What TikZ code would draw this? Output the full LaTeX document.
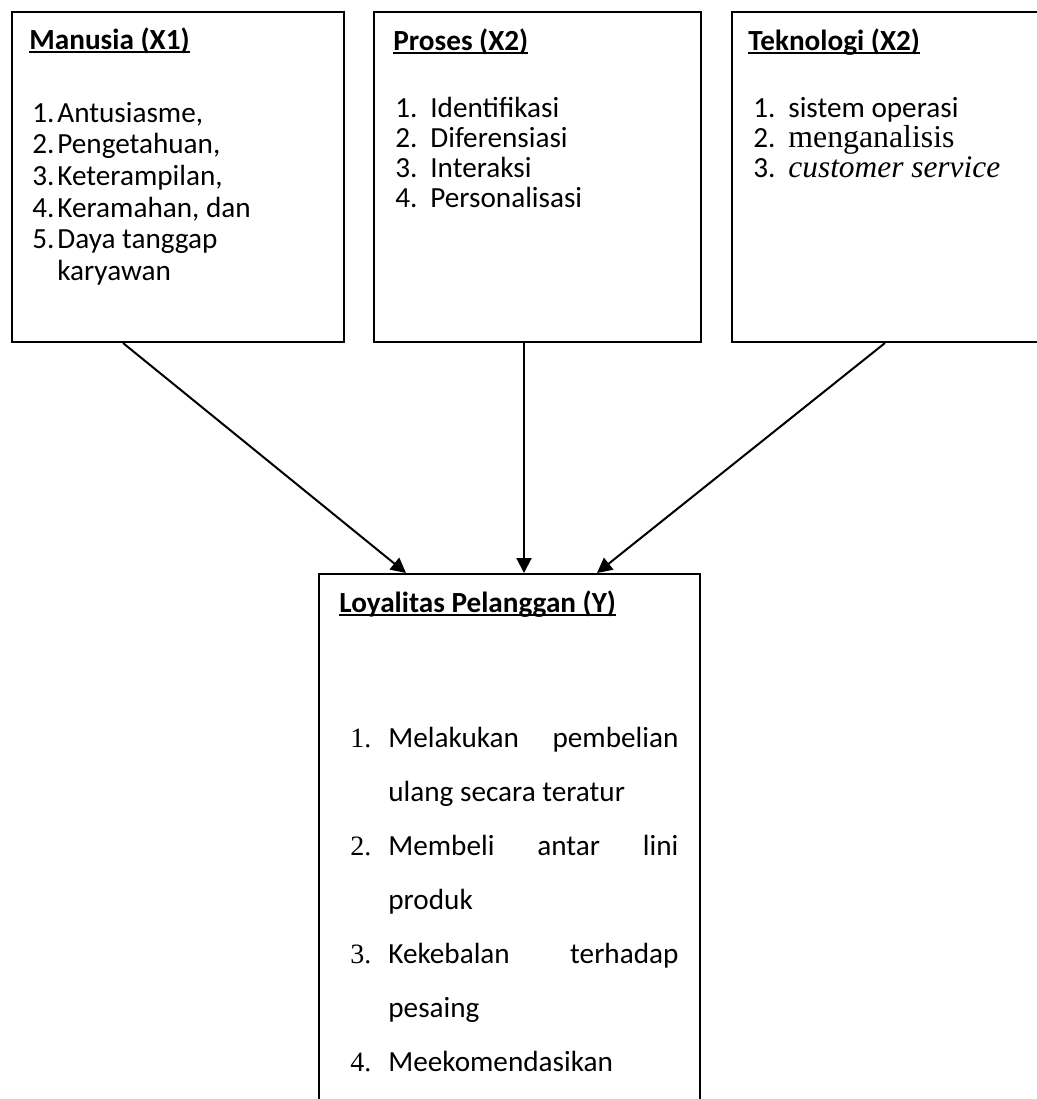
\documentclass[tikz,border=0pt]{standalone}
\usepackage{fontspec}
\setmainfont{Carlito}
\newfontfamily\hurufserif{Liberation Serif}
\usetikzlibrary{arrows.meta,calc}
\newcommand{\judul}[1]{\setbox0\hbox{\bfseries #1}\rlap{\rule[-2.2pt]{\wd0}{1pt}}\box0}
\newcommand{\nomor}[2]{\makebox[#1][l]{#2}}
\newcommand{\angka}[1]{\makebox[19pt][l]{\hurufserif\fontsize{14}{16}\selectfont #1}}
\tikzset{
  kotak/.style={draw, line width=1pt, inner sep=0pt, anchor=north west},
  teks/.style={anchor=base west, inner sep=0pt, font=\fontsize{14.6}{17}\selectfont},
  panah/.style={line width=1pt, -{Triangle[length=7.5pt,width=7.5pt]}}
}
\begin{document}
\begin{tikzpicture}[x=0.5pt,y=-0.5pt]
\clip (0,0) rectangle (1037,1099);
% kotak variabel
\node[kotak, minimum width=166pt, minimum height=165pt] (manusia) at (11,11) {};
\node[kotak, minimum width=163.5pt, minimum height=165pt] (proses) at (373,11) {};
\node[kotak, minimum width=164.5pt, minimum height=165pt] (teknologi) at (731,11) {};
\node[kotak, minimum width=190.5pt, minimum height=273.5pt] (loyal) at (318,573) {};

% Manusia (X1)
\node[teks] (m0) at (29,49) {\judul{Manusia (X1)}};
\node[teks] (m1) at (32,122) {\nomor{12.5pt}{1.}Antusiasme,};
\node[teks] (m2) at (32,153) {\nomor{12.5pt}{2.}Pengetahuan,};
\node[teks] (m3) at (32,185) {\nomor{12.5pt}{3.}Keterampilan,};
\node[teks] (m4) at (32,217) {\nomor{12.5pt}{4.}Keramahan, dan};
\node[teks] (m5) at (32,248) {\nomor{12.5pt}{5.}Daya tanggap};
\node[teks] (m6) at (57,280) {karyawan};

% Proses (X2)
\node[teks] (p0) at (393,50) {\judul{Proses (X2)}};
\node[teks] (p1) at (395,117) {\nomor{17.5pt}{1.}Identifikasi};
\node[teks] (p2) at (395,147) {\nomor{17.5pt}{2.}Diferensiasi};
\node[teks] (p3) at (395,177) {\nomor{17.5pt}{3.}Interaksi};
\node[teks] (p4) at (395,207) {\nomor{17.5pt}{4.}Personalisasi};

% Teknologi (X2)
\node[teks] (t0) at (748,50) {\judul{Teknologi (X2)}};
\node[teks] (t1) at (753,117) {\nomor{17.5pt}{1.}sistem operasi};
\node[teks] (t2) at (753,147) {\nomor{17.5pt}{2.}{\hurufserif\fontsize{15.9}{18}\selectfont menganalisis}};
\node[teks] (t3) at (753,177) {\nomor{17.5pt}{3.}{\hurufserif\itshape\fontsize{15.7}{18}\selectfont customer service}};

% Loyalitas Pelanggan (Y)
\node[teks] (y0) at (339,612) {\judul{Loyalitas Pelanggan (Y)}};
\node[teks] (y1) at (350,747) {\angka{1.}\hbox to 145pt{Melakukan\hfill pembelian}};
\node[teks] (y2) at (388,801) {ulang secara teratur};
\node[teks] (y3) at (350,855) {\angka{2.}\hbox to 145pt{Membeli\hfill antar\hfill lini}};
\node[teks] (y4) at (388,909) {produk};
\node[teks] (y5) at (350,963) {\angka{3.}\hbox to 145pt{Kekebalan\hfill terhadap}};
\node[teks] (y6) at (388,1017) {pesaing};
\node[teks] (y7) at (350,1071) {\angka{4.}Meekomendasikan};

% panah
\draw[panah] ($(manusia.south)+(-55,0)$) -- ($(loyal.north)+(-103.5,0)$);
\draw[panah] ($(proses.south)+(-13.5,0)$) -- ($(loyal.north)+(14.5,0)$);
\draw[panah] ($(teknologi.south)+(-11.5,0)$) -- ($(loyal.north)+(87.5,0)$);
\end{tikzpicture}
\end{document}
